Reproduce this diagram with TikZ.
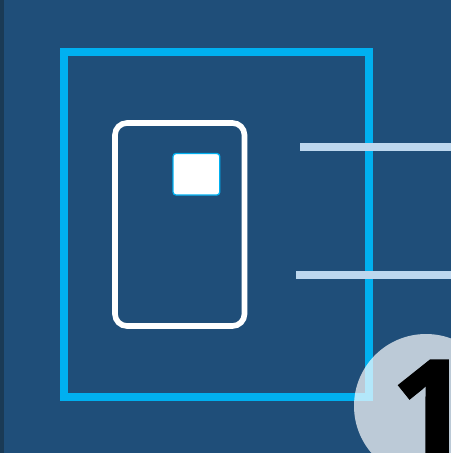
\documentclass[tikz,border=0pt]{standalone}
\usepackage{fontspec}
\newfontfamily\numfont[BoldFeatures={FakeBold=2.5}]{Open Sans}
\definecolor{bgblue}{HTML}{1F4E79}
\definecolor{stripblue}{HTML}{1A3A55}
\definecolor{framecyan}{HTML}{00B0F0}
\definecolor{barblue}{HTML}{BDD7EE}
\tikzset{
  px/.style={x=1pt,y=-1pt},
  framebox/.style={draw=framecyan,line width=8pt},
  cardbox/.style={draw=white,line width=5.6pt,rounded corners=12pt},
  chipbox/.style={draw=framecyan,fill=white,line width=1.3pt,rounded corners=3pt},
  barline/.style={draw=barblue,line width=8.4pt},
  badge/.style={fill=white,fill opacity=0.7}
}
\begin{document}
\begin{tikzpicture}[px]
\useasboundingbox (0,0) rectangle (451,453);
\clip (0,0) rectangle (451,453);
\fill[bgblue] (0,0) rectangle (451,453);
\fill[stripblue] (0,0) rectangle (4,453);
\draw[framebox] (64.3,52) rectangle (369.3,397);
\draw[cardbox] (115,123) rectangle (244.5,326);
\draw[chipbox] (173,153.5) rectangle (219.8,195);
\coordinate (bar1a) at (300,146.7);
\coordinate (bar1b) at (451,146.7);
\coordinate (bar2a) at (296,274.7);
\coordinate (bar2b) at (451,274.7);
\draw[barline] (bar1a) -- (bar1b);
\draw[barline] (bar2a) -- (bar2b);
\fill[badge] (426,406) circle (72);
\node[anchor=base west,inner sep=0pt,text=black] (one) at (392,456) {\numfont\bfseries\fontsize{133}{133}\selectfont 1};
\end{tikzpicture}
\end{document}
